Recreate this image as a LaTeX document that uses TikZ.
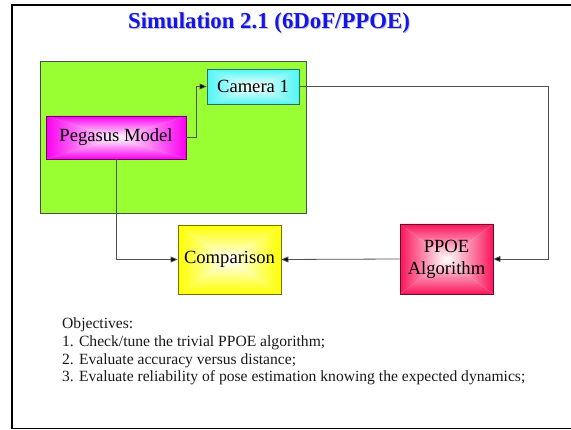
\documentclass[tikz,border=0pt]{standalone}
\usepackage{fontspec}
\setmainfont{Liberation Serif}
\usetikzlibrary{arrows.meta}

\definecolor{envgreen}{RGB}{153,255,51}
\definecolor{camcyan}{RGB}{80,245,245}
\definecolor{pegmag}{RGB}{250,0,240}
\definecolor{cmpyel}{RGB}{255,255,0}
\definecolor{ppoered}{RGB}{250,20,90}
\definecolor{titleblue}{RGB}{20,20,235}
\definecolor{wire}{RGB}{80,80,80}

\tikzset{
  % rectangular "from centre" gradient: four triangles meeting in the middle
  pyramid/.style={path picture={
    \coordinate (nw) at (path picture bounding box.north west);
    \coordinate (ne) at (path picture bounding box.north east);
    \coordinate (sw) at (path picture bounding box.south west);
    \coordinate (se) at (path picture bounding box.south east);
    \coordinate (cc) at (path picture bounding box.center);
    \shade[top color=#1, middle color=#1!25!white, bottom color=white] (nw) -- (ne) -- (cc) -- cycle;
    \shade[bottom color=#1, middle color=#1!25!white, top color=white] (sw) -- (se) -- (cc) -- cycle;
    \shade[left color=#1, middle color=#1!25!white, right color=white] (nw) -- (sw) -- (cc) -- cycle;
    \shade[right color=#1, middle color=#1!25!white, left color=white] (ne) -- (se) -- (cc) -- cycle;
  }},
  block/.style={draw=#1!45!black, line width=0.8pt, inner sep=0pt, pyramid=#1,
    font=\fontsize{18.6}{22}\selectfont, align=center, text=black},
  conn/.style={draw=wire, line width=0.8pt},
  arr/.style={conn, -{Triangle[length=7pt,width=6pt,fill=black]}},
  objline/.style={anchor=base west, inner sep=0pt,
    font=\fontsize{15.6}{18}\selectfont, text=black!90}
}

\begin{document}
\begin{tikzpicture}[x=1pt,y=-1pt]
  \useasboundingbox (0,0) rectangle (571,430);
  \clip (0,0) rectangle (571,430);

  % slide frame (open to the right)
  \draw[line width=1.8pt, black] (580,5) -- (12,5) -- (12,428.5) -- (580,428.5);

  % title with soft drop shadow
  \node[font=\fontsize{22.8}{26}\selectfont\bfseries, text=black!22, inner sep=0pt]
    (titleshadow) at (270,24) {Simulation 2.1 (6DoF/PPOE)};
  \node[font=\fontsize{22.8}{26}\selectfont\bfseries, text=titleblue, inner sep=0pt]
    (title) at (269,23) {Simulation 2.1 (6DoF/PPOE)};

  % simulated environment
  \node[draw=black!70, line width=0.8pt, fill=envgreen, minimum width=266pt,
    minimum height=152pt, inner sep=0pt] (env) at (173,137) {};

  % blocks
  \node[block=camcyan, minimum width=92pt, minimum height=35pt]
    (cam) at (253,86.5) {Camera 1};
  \node[block=pegmag, minimum width=140pt, minimum height=43pt]
    (peg) at (116,137.5) {Pegasus Model};
  \node[block=cmpyel, minimum width=103pt, minimum height=69pt]
    (cmp) at (229.5,259.5) {Comparison};
  \node[block=ppoered, minimum width=93pt, minimum height=70pt]
    (ppoe) at (446.5,259) {PPOE\\Algorithm};

  % connectors
  \draw[arr] (peg.east) -- ++(10,0) |- (cam.west);
  \draw[arr] (cam.east) -- ++(249,0) |- (ppoe.east);
  \draw[arr] (ppoe.west) -- (cmp.east);
  \draw[arr] (peg.south) |- (cmp.west);

  % objectives
  \node[objline] (obj0) at (62,329) {Objectives:};
  \node[objline] (obj1) at (62,347) {1. Check/tune the trivial PPOE algorithm;};
  \node[objline] (obj2) at (62,364.5) {2. Evaluate accuracy versus distance;};
  \node[objline] (obj3) at (62,382) {3. Evaluate reliability of pose estimation knowing the expected dynamics;};
\end{tikzpicture}
\end{document}
